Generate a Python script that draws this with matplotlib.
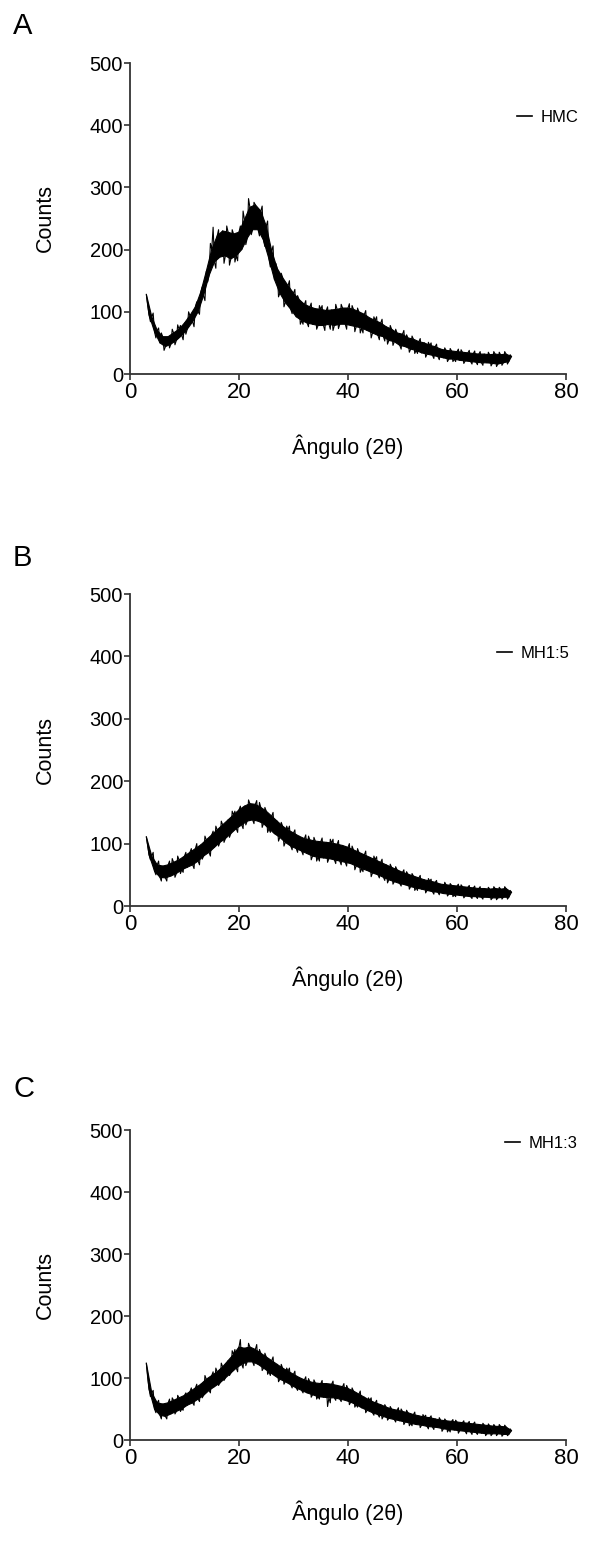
import numpy as np
import matplotlib
matplotlib.use("Agg")
import matplotlib.pyplot as plt

plt.rcParams['font.family'] = ['Liberation Sans', 'DejaVu Sans']

# 2-theta sampling start and step (degrees)
x_start = 3.0
x_step = 0.25

# Counts, 3.0 to 70.0 deg every 0.5 deg
# (whole degrees: top of the noise band, half degrees: bottom of the band)
hmc = [128, 95, 92, 68, 70, 50, 60, 44, 60, 48,
       66, 54, 72, 62, 82, 72, 94, 84, 108, 100,
       132, 126, 165, 158, 200, 180, 222, 188, 230, 190,
       228, 185, 225, 190, 228, 200, 248, 218, 268, 232,
       272, 232, 262, 215, 238, 185, 198, 152, 170, 130,
       155, 115, 142, 104, 130, 92, 120, 86, 112, 82,
       108, 80, 105, 78, 104, 78, 102, 80, 103, 78,
       104, 80, 106, 80, 106, 78, 104, 76, 100, 74,
       96, 70, 90, 66, 86, 62, 82, 60, 76, 54,
       72, 52, 66, 46, 64, 44, 58, 40, 56, 38,
       52, 34, 50, 32, 46, 30, 44, 28, 40, 26,
       38, 24, 37, 24, 36, 22, 35, 21, 34, 20,
       33, 19, 32, 18, 32, 18, 31, 17, 32, 16,
       31, 18, 32, 20, 28]
# spike readings in between (3.25 to 69.75 deg every 0.5 deg)
hmc_spikes = [110, 84, 98, 58, 74, 66, 38, 52, 42, 72,
              47, 79, 78, 55, 64, 100, 90, 76, 116, 96,
              140, 118, 148, 210, 236, 170, 232, 210, 178, 238,
              175, 232, 180, 182, 238, 262, 208, 282, 224, 276,
              252, 222, 270, 205, 246, 172, 206, 178, 124, 162,
              108, 128, 150, 97, 136, 126, 80, 80, 118, 76,
              114, 92, 72, 110, 110, 70, 108, 72, 70, 112,
              73, 112, 94, 72, 113, 110, 68, 106, 66, 66,
              102, 80, 58, 92, 92, 55, 88, 53, 48, 78,
              46, 72, 56, 40, 70, 63, 35, 61, 33, 33,
              57, 42, 27, 51, 50, 25, 48, 23, 33, 42,
              20, 41, 20, 20, 40, 39, 17, 27, 38, 16,
              37, 15, 36, 14, 25, 35, 13, 36, 12, 35,
              14, 36, 16, 31]

mh15 = [111, 82, 80, 56, 66, 46, 64, 45, 66, 48,
        70, 52, 74, 58, 80, 62, 86, 66, 92, 72,
        98, 80, 106, 86, 114, 94, 122, 102, 130, 108,
        138, 116, 146, 124, 154, 130, 160, 136, 164, 138,
        163, 136, 158, 132, 152, 124, 144, 116, 136, 110,
        128, 102, 122, 96, 117, 92, 112, 88, 108, 84,
        106, 80, 104, 78, 103, 77, 102, 76, 101, 74,
        99, 72, 97, 70, 94, 68, 90, 64, 86, 60,
        82, 57, 78, 53, 74, 50, 70, 46, 66, 42,
        62, 39, 58, 36, 54, 34, 51, 31, 48, 29,
        45, 27, 42, 25, 40, 23, 38, 22, 35, 20,
        34, 19, 33, 18, 32, 17, 31, 16, 30, 15,
        29, 15, 28, 14, 28, 14, 27, 13, 28, 13,
        27, 14, 28, 14, 22]
mh15_spikes = [96, 74, 86, 50, 72, 40, 54, 40, 72, 76,
               46, 80, 52, 54, 86, 72, 92, 60, 100, 66,
               75, 112, 96, 80, 120, 128, 96, 136, 102, 122,
               110, 152, 152, 118, 160, 124, 130, 170, 150, 132,
               169, 166, 126, 158, 118, 118, 150, 126, 104, 134,
               96, 128, 128, 90, 122, 86, 100, 82, 114, 112,
               74, 110, 72, 72, 109, 90, 70, 107, 107, 68,
               105, 66, 84, 64, 100, 96, 58, 92, 54, 55,
               88, 68, 47, 80, 79, 45, 75, 41, 37, 67,
               35, 63, 47, 32, 58, 55, 27, 52, 25, 25,
               49, 35, 21, 44, 43, 19, 41, 18, 27, 38,
               16, 36, 15, 15, 35, 34, 13, 23, 33, 12,
               32, 12, 31, 11, 21, 30, 10, 31, 10, 30,
               11, 31, 11, 25]

mh13 = [124, 82, 76, 50, 60, 40, 58, 38, 60, 42,
        64, 46, 68, 50, 72, 56, 78, 60, 84, 66,
        90, 72, 98, 80, 104, 86, 110, 92, 118, 100,
        128, 108, 138, 116, 150, 122, 148, 126, 150, 126,
        146, 122, 140, 116, 134, 110, 128, 104, 122, 98,
        116, 94, 111, 89, 106, 84, 101, 80, 97, 76,
        94, 73, 92, 70, 91, 69, 91, 68, 90, 68,
        88, 66, 86, 64, 83, 61, 79, 57, 74, 52,
        69, 48, 64, 44, 60, 41, 57, 38, 53, 35,
        50, 33, 48, 31, 46, 29, 44, 27, 41, 25,
        39, 24, 37, 22, 36, 21, 34, 20, 32, 18,
        31, 17, 30, 16, 29, 15, 28, 14, 27, 13,
        26, 12, 25, 11, 24, 10, 23, 10, 22, 10,
        22, 9, 21, 9, 15]
mh13_spikes = [100, 70, 80, 44, 64, 34, 48, 34, 66, 68,
               42, 72, 46, 48, 76, 66, 84, 56, 90, 62,
               68, 104, 88, 76, 110, 116, 88, 124, 96, 114,
               104, 144, 146, 110, 162, 116, 120, 156, 138, 120,
               154, 146, 112, 140, 106, 104, 134, 112, 94, 122,
               90, 116, 116, 84, 111, 80, 90, 76, 102, 99,
               69, 97, 66, 66, 96, 80, 54, 60, 95, 64,
               77, 62, 91, 88, 57, 84, 53, 53, 79, 60,
               44, 68, 68, 40, 64, 37, 34, 57, 32, 54,
               41, 29, 52, 50, 25, 48, 23, 23, 45, 32,
               20, 41, 40, 18, 39, 17, 27, 36, 14, 34,
               13, 13, 33, 32, 11, 21, 31, 10, 30, 9,
               29, 9, 18, 27, 7, 26, 7, 25, 7, 25,
               6, 24, 7, 18]

series = [(hmc, hmc_spikes), (mh15, mh15_spikes), (mh13, mh13_spikes)]
names = ["HMC", "MH1:5", "MH1:3"]
letters = ["A", "B", "C"]
x_ticks = [0, 20, 40, 60, 80]
y_ticks = [0, 100, 200, 300, 400, 500]
x_label = "Ângulo (2θ)"
y_label = "Counts"

W, H = 601, 1542
fig = plt.figure(figsize=(W / 100, H / 100), dpi=100)

# layout in pixels
panels = [
    dict(top=63, bottom=374, leg_x=517, leg_y=117, let_y=34),
    dict(top=594, bottom=906, leg_x=497, leg_y=653, let_y=566),
    dict(top=1130, bottom=1440, leg_x=505, leg_y=1143, let_y=1097),
]
left_px, right_px = 130, 566
spine_col = "#333333"

for (band, spikes), name, letter, p in zip(series, names, letters, panels):
    h_px = p['bottom'] - p['top']
    ax = fig.add_axes([left_px / W, 1 - p['bottom'] / H,
                       (right_px - left_px) / W, h_px / H])
    band = np.asarray(band, dtype=float)
    spikes = np.asarray(spikes, dtype=float)
    n = len(band) + len(spikes)
    xs = x_start + x_step * np.arange(n)
    ys = np.empty(n)
    ys[0::2] = band
    ys[1::2] = spikes
    xb = xs[0::2]
    xs_hi, y_hi = xb[0::2], band[0::2]
    xs_lo, y_lo = xb[1::2], band[1::2]
    # noise band between the top and bottom readings
    ax.fill(np.r_[xs_hi, xs_lo[::-1]], np.r_[y_hi, y_lo[::-1]],
            color="black", lw=0.8, ec="black")
    ax.plot(xs, ys, color="black", lw=0.8, label=name)
    ax.set_xlim(0, 80)
    ax.set_ylim(0, 500)
    ax.set_xticks(x_ticks)
    ax.set_yticks(y_ticks)
    for s in ["top", "right"]:
        ax.spines[s].set_visible(False)
    for s in ["left", "bottom"]:
        ax.spines[s].set_color(spine_col)
        ax.spines[s].set_linewidth(1.3)
    ax.tick_params(axis="both", direction="out", length=4, width=1.2, color=spine_col)
    ax.tick_params(axis="x", labelsize=16, pad=2)
    ax.tick_params(axis="y", labelsize=14.5, pad=1)
    ax.set_xlabel(x_label, fontsize=15.5)
    ax.set_ylabel(y_label, fontsize=15.5)
    ax.xaxis.set_label_coords(0.5, -73 / h_px)
    ax.yaxis.set_label_coords(-85 / (right_px - left_px), 0.5)
    ax.xaxis.label.set_va("center")
    ax.yaxis.label.set_va("center")
    leg = ax.legend(loc="center left",
                    bbox_to_anchor=((p['leg_x'] - left_px) / (right_px - left_px),
                                    (p['bottom'] - p['leg_y']) / h_px),
                    frameon=False, fontsize=12, handlelength=0.9,
                    handletextpad=0.5, borderpad=0, borderaxespad=0)
    for lh in leg.get_lines():
        lh.set_linewidth(1.2)
    fig.text(13 / W, 1 - p['let_y'] / H, letter, fontsize=21, va="baseline", ha="left")

fig.savefig("out.png", dpi=100, facecolor="white")
